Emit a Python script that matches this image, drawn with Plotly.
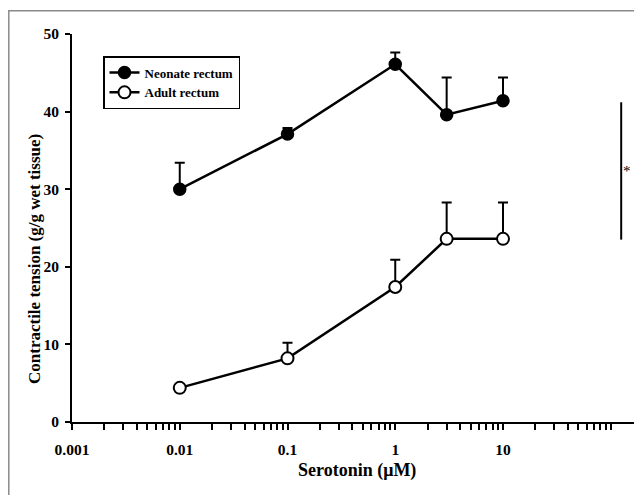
import plotly.graph_objects as go

conc = [0.01, 0.1, 1, 3, 10]
neonate = [30.0, 37.1, 46.1, 39.6, 41.4]
neonate_err = [3.4, 0.8, 1.5, 4.8, 3.0]
adult = [4.4, 8.2, 17.4, 23.6, 23.6]
adult_err = [0.3, 2.0, 3.5, 4.7, 4.7]
tick_vals = [0.001, 0.01, 0.1, 1, 10]
tick_text = ["0.001", "0.01", "0.1", "1", "10"]
minor_mult = [2, 3, 4, 5, 6, 7, 8, 9]
bracket_x = [125, 125]
bracket_y = [41.2, 23.5]

FONT = "Liberation Serif"
OFF = 8  # page body margin
W, H = 642 - 2 * OFF, 503 - 2 * OFF
L = 72 - OFF
T = 34 - OFF
AXB = 422 - OFF
B = H - AXB
PW = W - L
PH = AXB - T


def px(sx):
    return (sx - OFF - L) / PW


def py(sy):
    return (AXB - (sy - OFF)) / PH


all_ticks = []
for d in [0.001, 0.01, 0.1, 1, 10]:
    all_ticks.append(d)
    for m in minor_mult:
        all_ticks.append(d * m)
all_ticks.append(100)
all_text = [tick_text[tick_vals.index(v)] if v in tick_vals else "" for v in all_ticks]

fig = go.Figure()
fig.add_trace(go.Scatter(
    x=conc, y=neonate, mode="lines+markers", name="Neonate rectum",
    line=dict(color="black", width=2.5),
    marker=dict(symbol="circle", size=12, color="black", line=dict(color="black", width=1.5)),
    error_y=dict(type="data", array=neonate_err, arrayminus=[0]*5, symmetric=False,
                 color="black", thickness=2, width=5),
))
fig.add_trace(go.Scatter(
    x=conc, y=adult, mode="lines+markers", name="Adult rectum",
    line=dict(color="black", width=2.5),
    marker=dict(symbol="circle", size=12, color="white", line=dict(color="black", width=2)),
    error_y=dict(type="data", array=adult_err, arrayminus=[0]*5, symmetric=False,
                 color="black", thickness=2, width=5),
))
fig.add_trace(go.Scatter(
    x=bracket_x, y=bracket_y, mode="lines", showlegend=False,
    line=dict(color="black", width=2), hoverinfo="skip", cliponaxis=False,
))

fig.add_annotation(x=px(621), y=(bracket_y[0] + bracket_y[1]) / 2, xref="paper", yref="y",
                   text="*", showarrow=False, xanchor="left",
                   font=dict(family=FONT, size=15, color="black"))

# axis titles
fig.add_annotation(x=px(357), y=py(470), xref="paper", yref="paper",
                   text="<b>Serotonin (μM)</b>", showarrow=False, xanchor="center", yanchor="middle",
                   font=dict(family=FONT, size=18, color="black"))
fig.add_annotation(x=px(35), y=py(259), xref="paper", yref="paper",
                   text="<b>Contractile tension (g/g wet tissue)</b>", showarrow=False,
                   textangle=-90, xanchor="center", yanchor="middle",
                   font=dict(family=FONT, size=17, color="black"))

# outer frame
fig.add_shape(type="rect", xref="paper", yref="paper",
              x0=px(8.8), x1=1.2, y0=-0.3, y1=py(10.8),
              line=dict(color="#8a8a8a", width=1.5), fillcolor="rgba(0,0,0,0)", layer="below")

fig.update_layout(
    width=W, height=H,
    margin=dict(l=L, r=0, t=T, b=B, autoexpand=False),
    paper_bgcolor="white", plot_bgcolor="white",
    font=dict(family=FONT, color="black"),
    showlegend=True,
    legend=dict(x=px(103), y=py(56), xanchor="left", yanchor="top",
                bordercolor="black", borderwidth=1.5, bgcolor="white",
                font=dict(family=FONT, size=13, color="black", weight="bold"),
                tracegroupgap=0, itemwidth=30),
    xaxis=dict(type="log", range=[-3, -3 + PW / 107.75], automargin=False,
               tickmode="array", tickvals=all_ticks, ticktext=all_text,
               ticks="outside", ticklen=6, tickwidth=1.5, tickcolor="black",
               ticklabelstandoff=6,
               showline=True, linecolor="black", linewidth=2,
               showgrid=False, zeroline=False,
               tickfont=dict(family=FONT, size=15.5, color="black", weight="bold")),
    yaxis=dict(range=[0, 50], tickvals=[0, 10, 20, 30, 40, 50], automargin=False,
               ticks="outside", ticklen=5, tickwidth=1.5, tickcolor="black",
               ticklabelstandoff=3,
               showline=True, linecolor="black", linewidth=2,
               showgrid=False, zeroline=False,
               tickfont=dict(family=FONT, size=15.5, color="black", weight="bold")),
)

fig.write_html("out.html")
